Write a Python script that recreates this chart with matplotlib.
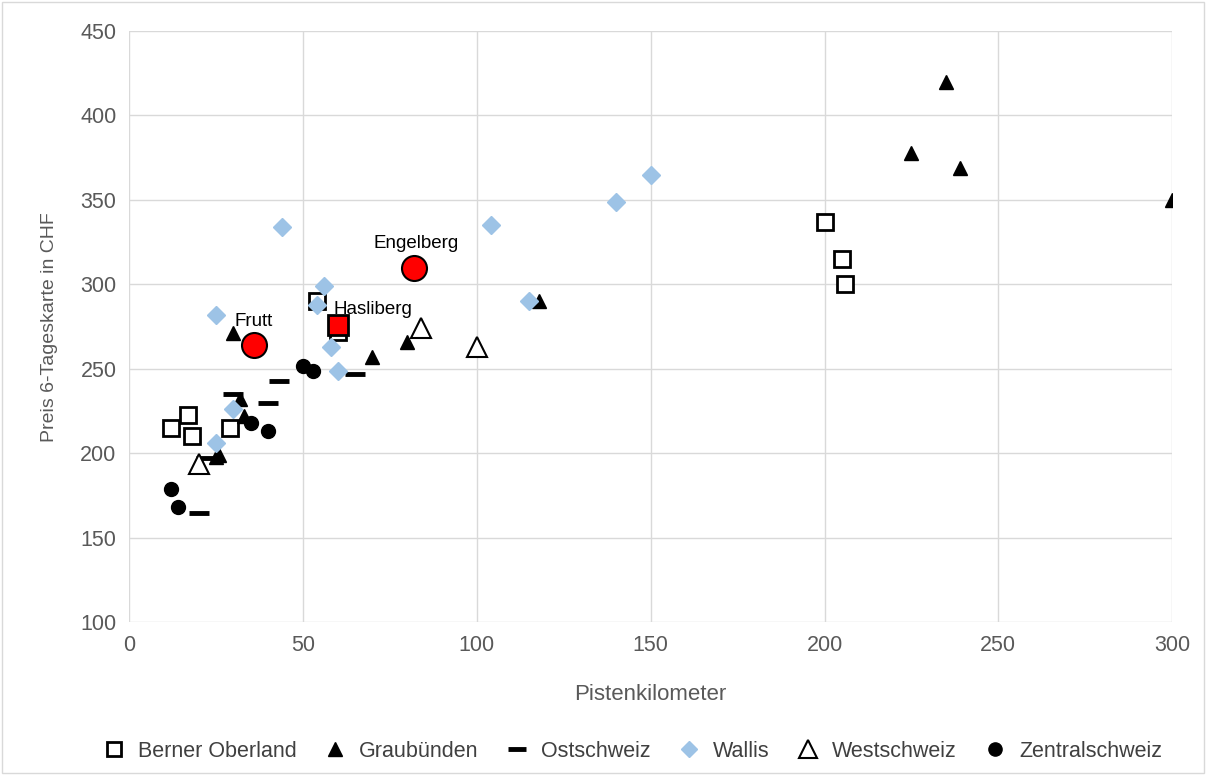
import matplotlib
matplotlib.use("Agg")
from matplotlib import pyplot as plt

# Werte (Pistenkilometer, Preis CHF)
bo_x = [12, 17, 18, 29, 54, 60, 200, 205, 206]
bo_y = [215, 223, 210, 215, 290, 272, 337, 315, 300]

gr_x = [30, 32, 33, 25, 26, 70, 80, 118, 225, 235, 239, 300]
gr_y = [271, 232, 222, 198, 199, 257, 266, 290, 378, 420, 369, 350]

os_x = [20, 30, 22, 40, 43, 65]
os_y = [165, 235, 197, 230, 243, 247]

wa_x = [25, 44, 56, 54, 58, 60, 30, 25, 104, 115, 140, 150]
wa_y = [282, 334, 299, 288, 263, 249, 226, 206, 335, 290, 349, 365]

ws_x = [20, 84, 100]
ws_y = [194, 274, 263]

zs_x = [12, 14, 35, 40, 50, 53]
zs_y = [179, 168, 218, 213, 252, 249]

hl_names = ["Frutt", "Engelberg", "Hasliberg"]
hl_x = [36, 82, 60]
hl_y = [264, 310, 276]

plt.rcParams['font.family'] = ['Liberation Sans', 'DejaVu Sans']
grey = '#595959'

fig = plt.figure(figsize=(12.06, 7.75), dpi=100)
ax = fig.add_axes([0.107, 0.197, 0.865, 0.763])

ax.plot(bo_x, bo_y, 's', ms=11, mfc='white', mec='black', mew=2, ls='none', label='Berner Oberland', zorder=3)
ax.plot(gr_x, gr_y, '^', ms=10, color='black', ls='none', label='Graubünden', zorder=3)
ax.plot(os_x, os_y, '_', ms=14, mew=3.5, color='black', ls='none', label='Ostschweiz', zorder=3)
ax.plot(wa_x, wa_y, 'D', ms=9, color='#9dc3e6', mec='#9dc3e6', ls='none', label='Wallis', zorder=3)
ax.plot(ws_x, ws_y, '^', ms=14, mfc='white', mec='black', mew=1.5, ls='none', label='Westschweiz', zorder=3)
ax.plot(zs_x, zs_y, 'o', ms=10, color='black', ls='none', label='Zentralschweiz', zorder=3)

# hervorgehobene Orte
ax.plot(hl_x[:2], hl_y[:2], 'o', ms=18, mfc='#ff0000', mec='black', mew=1.5, zorder=4)
ax.plot(hl_x[2], hl_y[2], 's', ms=14, mfc='#ff0000', mec='black', mew=2, zorder=4)
ax.annotate(hl_names[0], (hl_x[0], hl_y[0]), xytext=(-14, 14), textcoords='offset points', fontsize=13.5, zorder=5)
ax.annotate(hl_names[1], (hl_x[1], hl_y[1]), xytext=(-29, 14), textcoords='offset points', fontsize=13.5, zorder=5)
ax.annotate(hl_names[2], (hl_x[2], hl_y[2]), xytext=(-3, 8), textcoords='offset points', fontsize=13.5, zorder=5)

ax.set_xlim(0, 300)
ax.set_ylim(100, 450)
ax.set_xticks(range(0, 301, 50))
ax.set_yticks(range(100, 451, 50))
ax.grid(True, color='#d9d9d9', lw=1)
ax.set_axisbelow(True)
for s in ax.spines.values():
    s.set_visible(False)
ax.tick_params(length=0, labelsize=15.5, labelcolor=grey, pad=9)
ax.set_xlabel('Pistenkilometer', fontsize=16, color=grey, labelpad=20)
ax.set_ylabel('Preis 6-Tageskarte in CHF', fontsize=14, color=grey, labelpad=16)

fig.legend(loc='lower center', bbox_to_anchor=(0.52, -0.008), ncol=6, frameon=False,
           fontsize=15.5, handletextpad=0.1, columnspacing=0.8, markerscale=0.95,
           labelcolor='#404040')

# Rahmen um die ganze Grafik
fig.patches.append(plt.Rectangle((0.002, 0.002), 0.996, 0.996, transform=fig.transFigure,
                                 fill=False, edgecolor='#d9d9d9', lw=1))

fig.savefig('out.png', dpi=100)
